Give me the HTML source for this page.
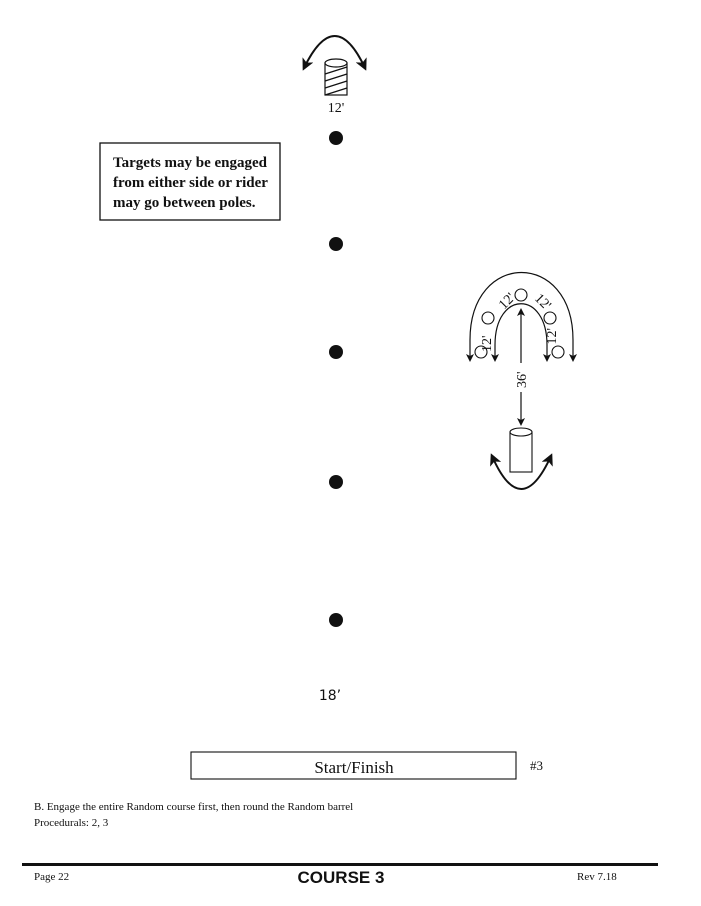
<!DOCTYPE html>
<html><head><meta charset="utf-8"><style>
html,body{margin:0;padding:0;background:#fff;}
svg{display:block;}
</style></head><body>
<svg width="701" height="906" viewBox="0 0 701 906" xmlns="http://www.w3.org/2000/svg" font-family="Liberation Serif, serif">
<defs>
<marker id="ah" markerWidth="8" markerHeight="8" refX="6" refY="4" orient="auto-start-reverse" markerUnits="userSpaceOnUse">
<path d="M0,0 L8,4 L0,8 L2,4 Z" fill="#111"/></marker>
<marker id="ahb" markerWidth="12" markerHeight="12" refX="9" refY="6" orient="auto-start-reverse" markerUnits="userSpaceOnUse">
<path d="M0,0 L12,6 L0,12 L3,6 Z" fill="#111"/></marker>
</defs>
<!-- top barrel -->
<path d="M304,68 Q335,4 365,68" fill="none" stroke="#111" stroke-width="2" marker-start="url(#ahb)" marker-end="url(#ahb)"/>
<rect x="325" y="63" width="22" height="32" fill="#fff" stroke="#111" stroke-width="1.2"/>
<ellipse cx="336" cy="63" rx="11" ry="4" fill="#fff" stroke="#111" stroke-width="1.2"/>
<g stroke="#111" stroke-width="1.3">
<line x1="325" y1="74" x2="347" y2="67"/><line x1="325" y1="81" x2="347" y2="74"/>
<line x1="325" y1="88" x2="347" y2="81"/><line x1="325" y1="95" x2="347" y2="88"/>
</g>
<text x="336" y="112" font-size="14" text-anchor="middle" fill="#111">12'</text>
<!-- dots -->
<g fill="#111"><circle cx="336" cy="138" r="7"/><circle cx="336" cy="244" r="7"/><circle cx="336" cy="352" r="7"/><circle cx="336" cy="482" r="7"/><circle cx="336" cy="620" r="7"/></g>
<!-- text box -->
<rect x="100" y="143" width="180" height="77" fill="#fff" stroke="#111" stroke-width="1.3"/>
<g font-size="15" font-weight="bold" fill="#111">
<text x="113" y="167">Targets may be engaged</text>
<text x="113" y="187">from either side or rider</text>
<text x="113" y="207">may go between poles.</text>
</g>
<!-- right pattern -->
<path d="M470,360 L470,340 C470,250 573,250 573,340 L573,360" fill="none" stroke="#111" stroke-width="1.2" marker-start="url(#ah)" marker-end="url(#ah)"/>
<path d="M495,360 L495,345 C495,290 547,290 547,345 L547,360" fill="none" stroke="#111" stroke-width="1.2" marker-start="url(#ah)" marker-end="url(#ah)"/>
<g fill="#fff" stroke="#111" stroke-width="1.1">
<circle cx="521" cy="295" r="6"/><circle cx="488" cy="318" r="6"/><circle cx="481" cy="352" r="6"/><circle cx="550" cy="318" r="6"/><circle cx="558" cy="352" r="6"/>
</g>
<g font-size="14" fill="#111">
<text transform="translate(491,352) rotate(-90)">12'</text>
<text transform="translate(504,310) rotate(-45)">12'</text>
<text transform="translate(534,299) rotate(45)">12'</text>
<text transform="translate(556,328) rotate(-90)" text-anchor="end">12'</text>
</g>
<line x1="521" y1="310" x2="521" y2="363" stroke="#111" stroke-width="1.2" marker-start="url(#ah)"/>
<line x1="521" y1="392" x2="521" y2="424" stroke="#111" stroke-width="1.2" marker-end="url(#ah)"/>
<text transform="translate(526,388) rotate(-90)" font-size="14" fill="#111">36'</text>
<rect x="510" y="432" width="22" height="40" fill="#fff" stroke="#111" stroke-width="1.1"/>
<ellipse cx="521" cy="432" rx="11" ry="4" fill="#fff" stroke="#111" stroke-width="1.1"/>
<path d="M492,456 Q521,522 551,456" fill="none" stroke="#111" stroke-width="2" marker-start="url(#ahb)" marker-end="url(#ahb)"/>
<!-- 18' -->
<text x="330" y="700" font-family="DejaVu Sans, sans-serif" font-size="14" text-anchor="middle" fill="#111">18’</text>
<!-- start finish -->
<rect x="191" y="752" width="325" height="27" fill="#fff" stroke="#111" stroke-width="1.1"/>
<text x="354" y="773" font-size="17" text-anchor="middle" fill="#111">Start/Finish</text>
<text x="530" y="770" font-size="13" fill="#111">#3</text>
<g font-size="11" fill="#111">
<text x="34" y="810">B. Engage the entire Random course first, then round the Random barrel</text>
<text x="34" y="826">Procedurals:  2, 3</text>
</g>
<line x1="22" y1="864.5" x2="658" y2="864.5" stroke="#111" stroke-width="3"/>
<text x="34" y="880" font-size="11" fill="#111">Page 22</text>
<text x="341" y="883" font-family="Liberation Sans, sans-serif" font-weight="bold" font-size="17" text-anchor="middle" fill="#111">COURSE 3</text>
<text x="577" y="880" font-size="11" fill="#111">Rev 7.18</text>
</svg>
</body></html>
